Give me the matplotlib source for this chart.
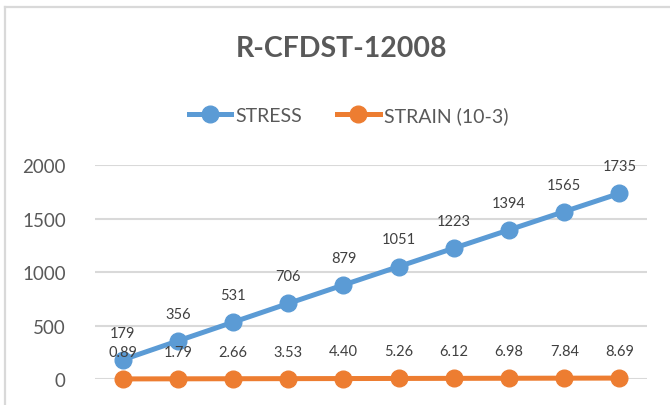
import matplotlib
matplotlib.use("Agg")
import matplotlib.pyplot as plt
from matplotlib.lines import Line2D

plt.rcParams['font.family'] = ['Lato', 'DejaVu Sans']

# data
points = list(range(1, 11))
stress = [179, 356, 531, 706, 879, 1051, 1223, 1394, 1565, 1735]
strain = [0.89, 1.79, 2.66, 3.53, 4.40, 5.26, 6.12, 6.98, 7.84, 8.69]
strain_labels = ['0.89', '1.79', '2.66', '3.53', '4.40', '5.26', '6.12', '6.98', '7.84', '8.69']
yticks = [0, 500, 1000, 1500, 2000]

blue = '#5B9BD5'
orange = '#ED7D31'
grey = '#595959'

fig = plt.figure(figsize=(6.7, 4.06), dpi=100)
ax = fig.add_axes([0.1418, 0.064, 0.824, 0.527])

# chart frame (top and left edges visible)
fig.add_artist(Line2D([5/670, 5/670], [0, 1 - 8/406], transform=fig.transFigure, color='#D9D9D9', lw=1.6))
fig.add_artist(Line2D([5/670, 1], [1 - 8/406, 1 - 8/406], transform=fig.transFigure, color='#D9D9D9', lw=1.6))

ax.plot(points, stress, color=blue, lw=3.6, marker='o', ms=12, clip_on=False, zorder=3, label='STRESS')
ax.plot(points, strain, color=orange, lw=3.6, marker='o', ms=12, clip_on=False, zorder=3, label='STRAIN (10-3)')

for x, v in zip(points, stress):
    ax.annotate(str(v), (x, v), xytext=(0, 19.5), textcoords='offset points',
                ha='center', va='center', fontsize=10.5, color='#404040')
for x, v, t in zip(points, strain, strain_labels):
    ax.annotate(t, (x, v), xytext=(0, 19.5), textcoords='offset points',
                ha='center', va='center', fontsize=10.5, color='#404040')

ax.set_xlim(0.5, 10.5)
ax.set_ylim(0, 2000)
ax.set_yticks(yticks)
ax.set_xticks([])
ax.yaxis.grid(True, color='#D9D9D9', lw=1.5)
ax.set_axisbelow(True)
for s in ax.spines.values():
    s.set_visible(False)
ax.tick_params(axis='y', length=0, labelsize=13.5, labelcolor=grey, pad=21)

fig.text(0.509, 1 - 49/406, 'R-CFDST-12008', ha='center', va='center',
         fontsize=20.5, fontweight='bold', color=grey)

fig.legend(loc='center', bbox_to_anchor=(0.52, 1 - 116/406), ncol=2, frameon=False,
           fontsize=14, handlelength=2.2, handletextpad=0.2, columnspacing=1.8,
           labelcolor=grey)

fig.savefig('out.png', dpi=100)
